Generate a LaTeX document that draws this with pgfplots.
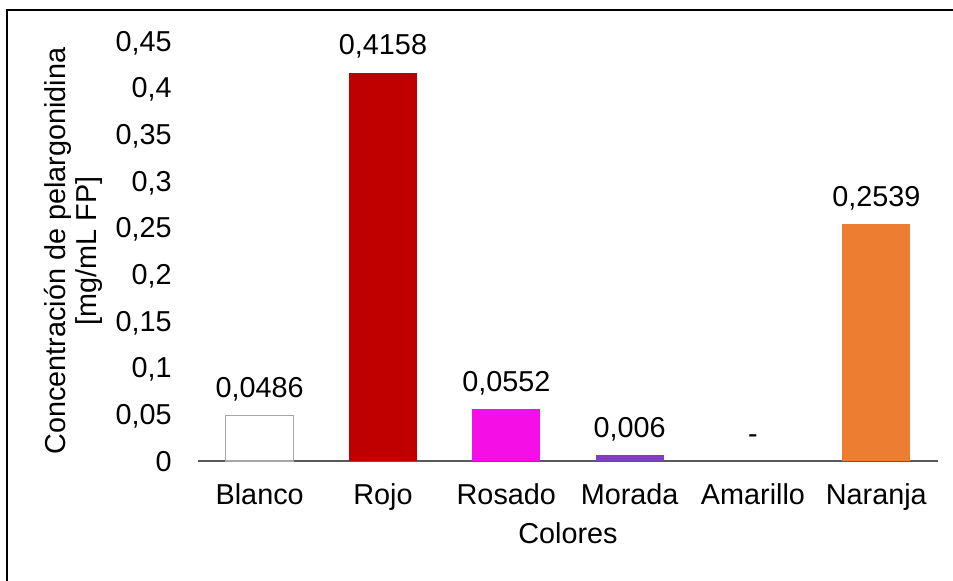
\documentclass[border=0pt]{standalone}
\usepackage{fontspec}
\setmainfont{Liberation Sans}
\usepackage{pgfplots}
\pgfplotsset{compat=1.18}
\definecolor{rojo}{RGB}{192,0,0}
\definecolor{rosado}{RGB}{245,15,230}
\definecolor{morada}{RGB}{128,60,196}
\definecolor{naranja}{RGB}{237,125,49}
\definecolor{bordegris}{RGB}{166,166,166}
\definecolor{ejegris}{RGB}{89,89,89}
\newcommand\cfont{\fontsize{14.4}{15.5}\selectfont}
\begin{document}
\begin{tikzpicture}
\useasboundingbox (0,0) rectangle (476.5pt,290pt);
% chart frame
\draw[line width=0.75pt] (3.5pt,-2pt) -- (3.5pt,285pt) -- (480pt,285pt);
\begin{axis}[
  at={(99pt,59.5pt)}, anchor=south west,
  scale only axis, width=370pt, height=210pt,
  ybar, bar width=34pt,
  xmin=-0.5, xmax=5.5, ymin=0, ymax=0.45,
  xtick={0,1,2,3,4,5},
  xticklabels={Blanco,Rojo,Rosado,Morada,Amarillo,Naranja},
  ytick={0,0.05,0.1,0.15,0.2,0.25,0.3,0.35,0.4,0.45},
  axis x line*=bottom, axis y line*=left,
  y axis line style={draw=none},
  x axis line style={ejegris, line width=0.75pt},
  major tick length=0pt,
  tick label style={font=\cfont},
  /pgf/number format/.cd, use comma, fixed, precision=4, assume math mode=true,
  /pgfplots/.cd,
  yticklabel style={anchor=base east, inner sep=0pt, xshift=-13pt, yshift=-5.15pt},
  xticklabel style={anchor=base, inner sep=0pt, yshift=-21.5pt},
  xlabel={Colores},
  xlabel style={font=\cfont, at={(axis description cs:0.5,0)}, anchor=base, inner sep=0pt, yshift=-41pt},
  ylabel={Concentración de pelargonidina\\{[mg/mL FP]}},
  ylabel style={font=\cfont, align=center, at={(axis description cs:-0.1284,0.5)}, anchor=south, inner sep=0pt},
  nodes near coords,
  every node near coord/.append style={font=\cfont, anchor=base, inner sep=0pt, yshift=9pt, text=black},
]
\addplot[fill=white, draw=bordegris, line width=0.75pt, bar shift=0pt] coordinates {(0,0.0486)};
\addplot[fill=rojo, draw=none, bar shift=0pt] coordinates {(1,0.4158)};
\addplot[fill=rosado, draw=none, bar shift=0pt] coordinates {(2,0.0552)};
\addplot[fill=morada, draw=none, bar shift=0pt] coordinates {(3,0.006)};
\addplot[fill=none, draw=none, bar shift=0pt, nodes near coords={-}] coordinates {(4,0)};
\addplot[fill=naranja, draw=none, bar shift=0pt] coordinates {(5,0.2539)};
\end{axis}
\end{tikzpicture}
\end{document}
